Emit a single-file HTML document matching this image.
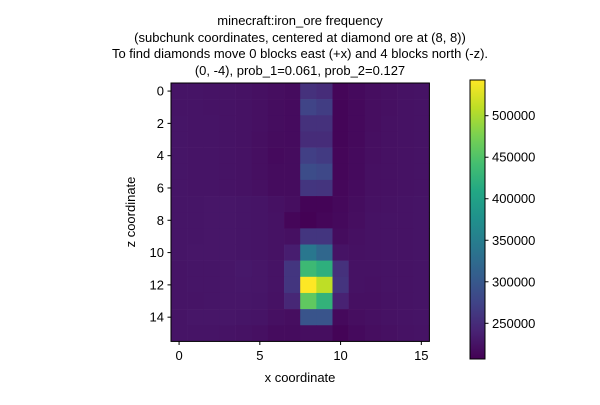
<!DOCTYPE html>
<html><head><meta charset="utf-8"><style>
body{margin:0;background:#fff;}
svg{font-family:"Liberation Sans","DejaVu Sans",sans-serif;}
</style></head><body>
<svg id="chart" width="600" height="400">
<rect width="600" height="400" fill="#fff"/>
<g font-size="13" text-anchor="middle" fill="#000">
<text x="300" y="25">minecraft:iron_ore frequency</text>
<text x="300" y="42">(subchunk coordinates, centered at diamond ore at (8, 8))</text>
<text x="300" y="58">To find diamonds move 0 blocks east (+x) and 4 blocks north (-z).</text>
<text x="300" y="75">(0, -4), prob_1=0.061, prob_2=0.127</text>
</g>
<g id="cells"></g>
<rect x="171" y="83" width="258.4" height="258.4" fill="none" stroke="#000" stroke-width="1"/>
<g id="xticks" font-size="13" fill="#000"></g>
<g id="yticks" font-size="13" fill="#000"></g>
<text x="300" y="382" font-size="13" text-anchor="middle">x coordinate</text>
<text x="135" y="212" font-size="13" text-anchor="middle" transform="rotate(-90 135 212)">z coordinate</text>
<defs><linearGradient id="vir" x1="0" y1="1" x2="0" y2="0" id2="g"></linearGradient></defs>
<rect x="470" y="80" width="15" height="279" fill="url(#vir)" stroke="#000" stroke-width="1"/>
<g id="cbticks" font-size="13" fill="#000"></g>
</svg>
<script>
const xTicks=[0,5,10,15];
const yTicks=[0,2,4,6,8,10,12,14];
const cbTicks=[250000,300000,350000,400000,450000,500000];
const vmin=207000, vmax=543000;
const row0=[226,226,225,225,224,222,220,218,255,250,212,216,220,222,224,225];
const row1=[226,226,225,225,224,222,219,217,275,268,211,215,220,222,224,225];
const row2=[227,226,226,225,224,222,219,217,255,255,211,215,220,223,224,225];
const row3=[227,226,226,225,224,221,218,217,250,250,211,215,221,223,224,225];
const row4=[227,226,226,225,224,221,216,218,270,265,212,216,221,223,224,225];
const row5=[227,226,226,225,224,221,218,218,285,280,212,216,222,223,224,225];
const row6=[227,226,226,225,224,222,218,218,260,258,213,217,222,223,224,225];
const row7=[227,227,228,228,227,226,223,220,210,210,214,219,223,224,225,226];
const row8=[227,227,228,228,227,226,224,212,208,212,215,220,224,225,225,226];
const row9=[227,227,228,228,227,226,224,222,260,260,218,222,224,225,225,226];
const row10=[227,228,228,228,227,226,224,235,340,320,225,223,224,225,225,226];
const row11=[226,227,227,228,230,228,225,260,435,420,255,224,224,225,225,226];
const row12=[226,227,227,228,229,228,225,260,543,510,258,224,223,225,225,226];
const row13=[226,226,227,228,228,227,224,245,460,425,240,222,222,224,225,226];
const row14=[226,228,228,228,227,226,222,220,295,295,215,220,222,224,225,226];
const row15=[226,226,226,225,224,222,218,218,220,220,210,216,220,222,224,225];
const grid=[row0,row1,row2,row3,row4,row5,row6,row7,row8,row9,row10,row11,row12,row13,row14,row15];
const NS="http://www.w3.org/2000/svg";
const x0=171,y0=83,cw=16.15;
const xs=v=>x0+(v+0.5)*cw, ys=v=>y0+(v+0.5)*cw;
const cbTop=80,cbBot=359, cbY=v=>cbBot-(v-vmin)/(vmax-vmin)*(cbBot-cbTop);
const vir=[[68,1,84],[72,35,116],[64,67,135],[52,94,141],[41,120,142],[32,144,140],[34,167,132],[68,190,112],[121,209,81],[189,222,38],[253,231,37]];
function cmap(t){t=Math.max(0,Math.min(1,t));const p=t*(vir.length-1),i=Math.min(Math.floor(p),vir.length-2),f=p-i;
const c=vir[i].map((a,k)=>Math.round(a+(vir[i+1][k]-a)*f));return `rgb(${c[0]},${c[1]},${c[2]})`;}
const grad=document.getElementById('vir');
vir.forEach((c,i)=>{const s=document.createElementNS(NS,'stop');s.setAttribute('offset',i/(vir.length-1));s.setAttribute('stop-color',`rgb(${c})`);grad.appendChild(s);});
const cells=document.getElementById('cells');
grid.forEach((row,r)=>row.forEach((v,c)=>{
const e=document.createElementNS(NS,'rect');
e.setAttribute('x',xs(c)-cw/2);e.setAttribute('y',ys(r)-cw/2);e.setAttribute('width',cw+0.3);e.setAttribute('height',cw+0.3);
e.setAttribute('fill',cmap((v*1000-vmin)/(vmax-vmin)));


cells.appendChild(e);}));
const xg=document.getElementById('xticks');
xTicks.forEach(t=>{const x=xs(t);
const l=document.createElementNS(NS,'line');l.setAttribute('x1',x);l.setAttribute('x2',x);l.setAttribute('y1',341.4);l.setAttribute('y2',345);l.setAttribute('stroke','#000');xg.appendChild(l);
const tx=document.createElementNS(NS,'text');tx.setAttribute('x',x);tx.setAttribute('y',360);tx.setAttribute('text-anchor','middle');tx.textContent=t;


xg.appendChild(tx);});
const yg=document.getElementById('yticks');
yTicks.forEach(t=>{const y=ys(t);
const l=document.createElementNS(NS,'line');l.setAttribute('x1',167.5);l.setAttribute('x2',171);l.setAttribute('y1',y);l.setAttribute('y2',y);l.setAttribute('stroke','#000');yg.appendChild(l);
const tx=document.createElementNS(NS,'text');tx.setAttribute('x',164);tx.setAttribute('y',y+4.5);tx.setAttribute('text-anchor','end');tx.textContent=t;


yg.appendChild(tx);});
const cg=document.getElementById('cbticks');
cbTicks.forEach(t=>{const y=cbY(t);
const l=document.createElementNS(NS,'line');l.setAttribute('x1',485);l.setAttribute('x2',488.5);l.setAttribute('y1',y);l.setAttribute('y2',y);l.setAttribute('stroke','#000');cg.appendChild(l);
const tx=document.createElementNS(NS,'text');tx.setAttribute('x',492);tx.setAttribute('y',y+4.5);tx.textContent=t;


cg.appendChild(tx);});
</script>
</body></html>
